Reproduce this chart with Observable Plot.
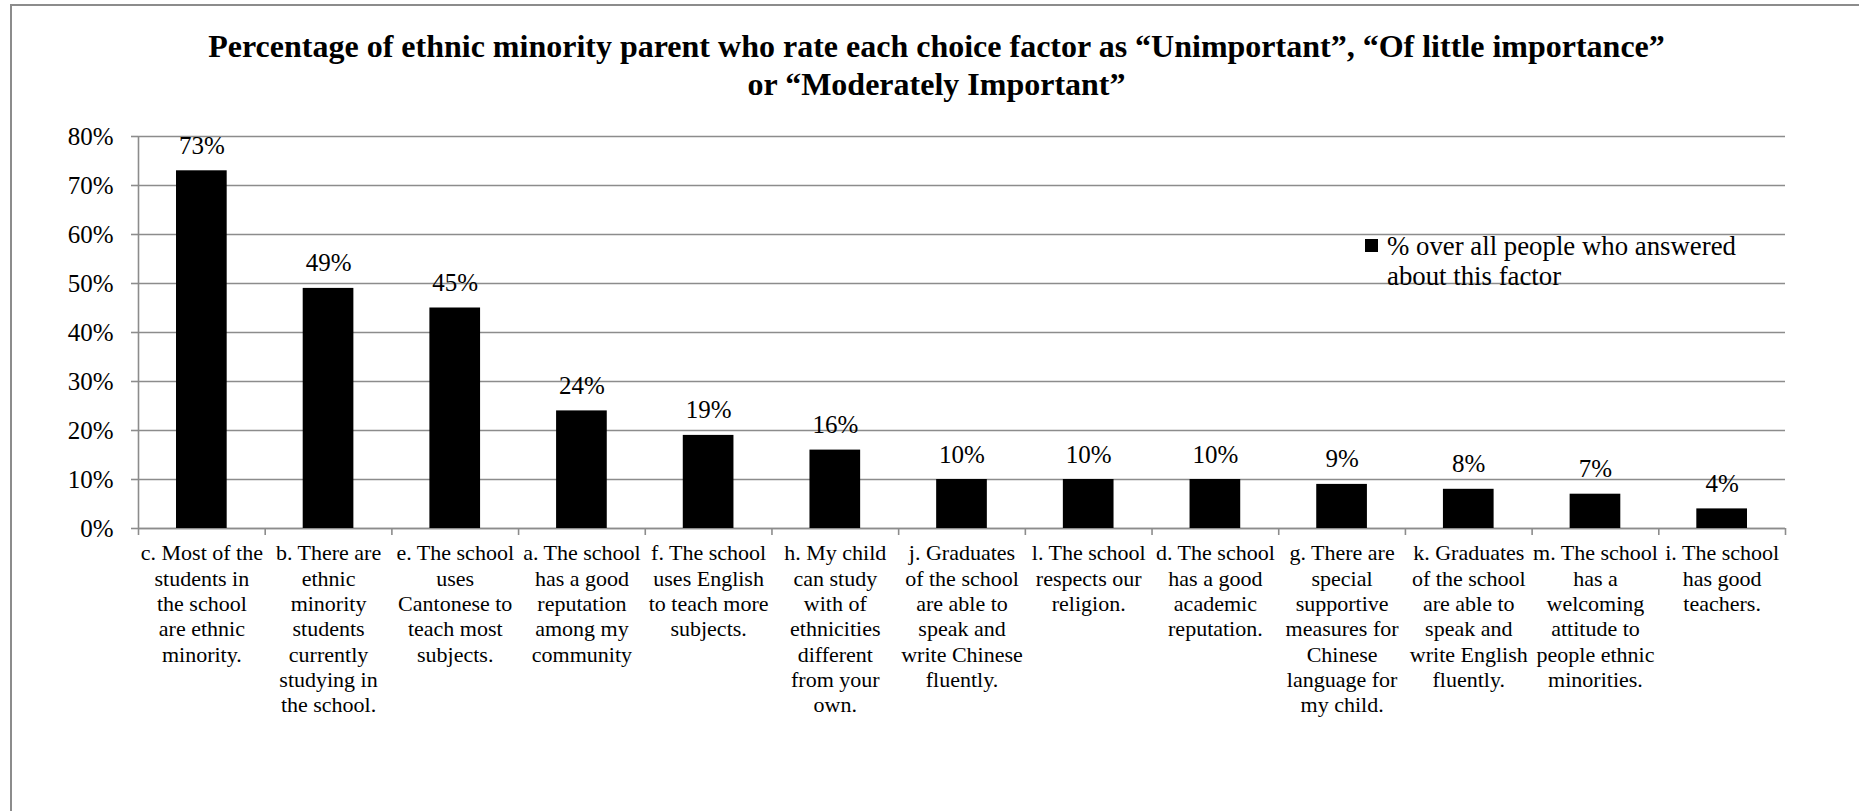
<!DOCTYPE html>
<html>
<head>
<meta charset="utf-8">
<script src="https://cdn.jsdelivr.net/npm/d3@7"></script>
<script src="https://cdn.jsdelivr.net/npm/@observablehq/plot@0.6"></script>
<style>
  html, body { margin: 0; padding: 0; background: #fff; }
  #wrap { position: relative; width: 1859px; height: 811px; overflow: hidden; background: #fff; }
  #border { position: absolute; left: 10px; top: 4px; right: -4px; bottom: -4px;
            border-left: 2px solid #8c8c8c; border-top: 2px solid #8c8c8c; }
  #title { position: absolute; left: 14px; width: 1845px; top: 27px; text-align: center;
           font-family: "Liberation Serif", "Times New Roman", serif; font-weight: bold;
           font-size: 32px; line-height: 38px; color: #000; }
  #legend { position: absolute; left: 1365px; top: 231px; font-family: "Liberation Serif", "Times New Roman", serif;
            font-size: 26.8px; line-height: 30px; color: #000; }
  #legend .sw { position: absolute; left: 0; top: 8px; width: 13px; height: 13px; background: #000; }
  #legend .lbl { position: absolute; left: 22px; top: 0; white-space: nowrap; }
  #chart { position: absolute; left: 0; top: 0; }
</style>
</head>
<body>
<div id="wrap">
  <div id="chart"></div>
  <div id="border"></div>
  <div id="title">Percentage of ethnic minority parent who rate each choice factor as “Unimportant”, “Of little importance”<br>or “Moderately Important”</div>
  <div id="legend"><div class="sw"></div><div class="lbl">% over all people who answered<br>about this factor</div></div>
</div>
<script>
// School choice factors, in the order shown (sorted by share)
const categories = [
  "c. Most of the\nstudents in\nthe school\nare ethnic\nminority.",
  "b. There are\nethnic\nminority\nstudents\ncurrently\nstudying in\nthe school.",
  "e. The school\nuses\nCantonese to\nteach most\nsubjects.",
  "a. The school\nhas a good\nreputation\namong my\ncommunity",
  "f. The school\nuses English\nto teach more\nsubjects.",
  "h. My child\ncan study\nwith of\nethnicities\ndifferent\nfrom your\nown.",
  "j. Graduates\nof the school\nare able to\nspeak and\nwrite Chinese\nfluently.",
  "l. The school\nrespects our\nreligion.",
  "d. The school\nhas a good\nacademic\nreputation.",
  "g. There are\nspecial\nsupportive\nmeasures for\nChinese\nlanguage for\nmy child.",
  "k. Graduates\nof the school\nare able to\nspeak and\nwrite English\nfluently.",
  "m. The school\nhas a\nwelcoming\nattitude to\npeople ethnic\nminorities.",
  "i. The school\nhas good\nteachers."
];

// Share rating the factor as unimportant / of little / moderate importance
const values = [0.73, 0.49, 0.45, 0.24, 0.19, 0.16, 0.10, 0.10, 0.10, 0.09, 0.08, 0.07, 0.04];

// Y axis ticks
const yTicks = [0, 0.1, 0.2, 0.3, 0.4, 0.5, 0.6, 0.7, 0.8];

const data = categories.map((category, index) => ({category, index, value: values[index]}));
const boundaries = d3.range(categories.length + 1);

const serif = "'Liberation Serif', 'Times New Roman', serif";
const gridColor = "#8c8c8c";
const pct = d3.format(".0%");

const chart = Plot.plot({
  width: 1859,
  height: 811,
  marginLeft: 138,
  marginRight: 74,
  marginTop: 136,
  marginBottom: 283,
  style: {fontFamily: serif, fontSize: "24px", color: "#000", background: "transparent"},
  x: {type: "linear", domain: [0, categories.length], axis: null},
  y: {domain: [0, 0.8], axis: null},
  marks: [
    Plot.gridY(yTicks, {stroke: gridColor, strokeOpacity: 1, strokeWidth: 1.6}),
    Plot.axisY(yTicks, {anchor: "left", label: null, tickSize: 7, tickPadding: 18, tickFormat: pct,
      stroke: gridColor, strokeWidth: 1.6, fill: "#000", fontSize: 25, fontFamily: serif}),
    Plot.ruleX([0], {stroke: gridColor, strokeWidth: 1.6}),
    Plot.ruleY([0], {stroke: gridColor, strokeWidth: 1.6}),
    Plot.axisX(boundaries, {anchor: "bottom", label: null, tickSize: 7, tickFormat: () => "",
      stroke: gridColor, strokeWidth: 1.6}),
    Plot.rectY(data, {x1: d => d.index + 0.3, x2: d => d.index + 0.7, y: "value", fill: "#000"}),
    Plot.text(data, {x: d => d.index + 0.5, y: "value", text: d => pct(d.value),
      lineAnchor: "bottom", dy: -17, fontSize: 25, fontFamily: serif, fill: "#000"}),
    Plot.text(data, {x: d => d.index + 0.5, y: 0, text: "category",
      lineAnchor: "top", dy: 14, fontSize: 22, lineHeight: 1.15, fontFamily: serif, fill: "#000"})
  ]
});

document.getElementById("chart").appendChild(chart);
</script>
</body>
</html>
